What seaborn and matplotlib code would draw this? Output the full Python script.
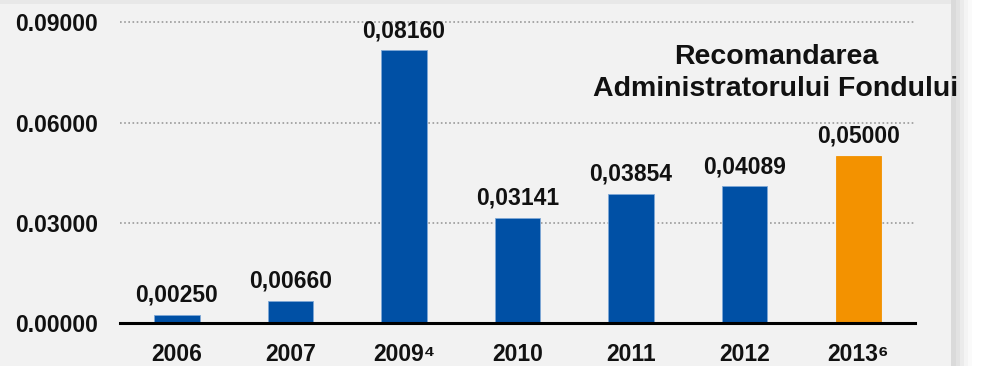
import matplotlib
matplotlib.use("Agg")
import matplotlib.pyplot as plt
from matplotlib.patches import Rectangle
import seaborn as sns
import pandas as pd

categories = ["2006", "2007", "2009⁴", "2010", "2011", "2012", "2013⁶"]
values = [0.00250, 0.00660, 0.08160, 0.03141, 0.03854, 0.04089, 0.05000]
value_labels = ["0,00250", "0,00660", "0,08160", "0,03141", "0,03854", "0,04089", "0,05000"]
bar_colors = ["#0050a5"] * 6 + ["#f39200"]
edge_colors = ["#7fa8d6"] * 6 + ["#f39200"]
yticks = [0.0, 0.03, 0.06, 0.09]
ytick_labels = ["0.00000", "0.03000", "0.06000", "0.09000"]
title_text = "Recomandarea\nAdministratorului Fondului"

sns.set_theme(style="white")
FONT = ["Liberation Sans Narrow", "Liberation Sans", "DejaVu Sans"]
plt.rcParams["font.family"] = FONT
plt.rcParams["font.weight"] = "bold"

FS = 16.5

fig = plt.figure(figsize=(9.9, 3.66), dpi=100)
fig.patch.set_facecolor("white")
W, H = 990, 366
# background panel
fig.patches.append(Rectangle((0, 0), 951 / W, 1, transform=fig.transFigure,
                             facecolor="#f2f2f2", edgecolor="none", zorder=-10))
fig.patches.append(Rectangle((0, (H - 4) / H), 951 / W, 4 / H, transform=fig.transFigure,
                             facecolor="#e8e8e8", edgecolor="none", zorder=-10))
for x0, w, c in [(951, 5, "#dadada"), (956, 4, "#e2e2e2"), (960, 4, "#ebebeb"),
                 (964, 4, "#f4f4f4"), (968, 4, "#fafafa")]:
    fig.patches.append(Rectangle((x0 / W, 0), w / W, 1, transform=fig.transFigure,
                                 facecolor=c, edgecolor="none", zorder=-10))

ax = fig.add_axes([120 / W, 43 / H, 795 / W, 309 / H])
ax.set_facecolor("none")
ax.set_zorder(5)

df = pd.DataFrame({"cat": categories, "val": values})
sns.barplot(data=df, x="cat", y="val", hue="cat", palette=bar_colors,
            legend=False, width=0.40, ax=ax, saturation=1)

for p, ec in zip(ax.patches, edge_colors):
    p.set_edgecolor(ec)
    p.set_linewidth(0.6)
    p.set_zorder(3)

for cont, lab in zip(ax.containers, value_labels):
    ax.bar_label(cont, labels=[lab], padding=6, fontsize=FS, fontweight="bold",
                 color="#111111", family=FONT)

ax.set_xlim(-0.5, 6.5)
ax.set_ylim(0, 0.0925)
ax.set_yticks(yticks)
ax.set_yticklabels(ytick_labels, fontsize=FS, fontweight="bold", color="#111111")
ax.tick_params(axis="y", length=0, pad=16)
ax.tick_params(axis="x", length=0, pad=14.5, labelsize=FS, labelcolor="#111111")
for t in ax.get_xticklabels():
    t.set_fontweight("bold")
ax.set_xlabel("")
ax.set_ylabel("")

for yv in yticks[1:]:
    ax.axhline(yv, color="#9a9a9a", linestyle=(0, (1, 1.5)), linewidth=1.2, zorder=1,
               clip_on=False)
for s in ["top", "right", "left"]:
    ax.spines[s].set_visible(False)
ax.spines["bottom"].set_color("black")
ax.spines["bottom"].set_linewidth(2.2)
ax.spines["bottom"].set_zorder(5)

fig.text(776 / W, 1 - 73 / H, title_text, ha="center", va="center", fontsize=20.5,
         fontweight="bold", color="#111111", linespacing=1.25, family=FONT)

fig.savefig("out.png", dpi=100, facecolor=fig.get_facecolor())
